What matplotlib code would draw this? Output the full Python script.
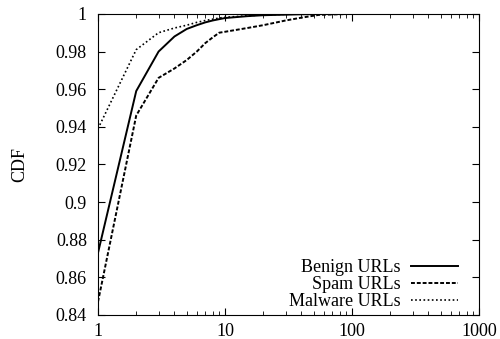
import numpy as np
import matplotlib.pyplot as plt

plt.rcParams['font.family'] = ['Liberation Serif']

x = [1, 2, 3, 4, 5, 6, 7, 8, 9, 10, 15, 20, 30, 40, 55, 100, 1000]
benign = [0.873, 0.959, 0.980, 0.988, 0.992, 0.994, 0.9955, 0.9965, 0.9972, 0.9978,
          0.9988, 0.9993, 0.9996, 0.9998, 0.9999, 1.0, 1.0]
spam = [0.847, 0.946, 0.966, 0.971, 0.9755, 0.980, 0.9845, 0.9875, 0.990, 0.9905,
        0.9925, 0.994, 0.9965, 0.998, 0.9995, 1.0, 1.0]
malware = [0.939, 0.981, 0.990, 0.9925, 0.994, 0.9955, 0.9965, 0.9972, 0.9978, 0.9982,
           0.999, 0.9995, 0.9998, 0.9999, 1.0, 1.0, 1.0]

fig = plt.figure(figsize=(5, 3.39), dpi=100)
ax = fig.add_axes([0.196, 0.071, 0.762, 0.888])

ax.plot(x, benign, color='black', lw=1.4, label='Benign URLs')
ax.plot(x, spam, color='black', lw=1.4, ls=(0, (2, 1)), label='Spam URLs')
ax.plot(x, malware, color='black', lw=1.2, ls=(0, (1, 1.5)), label='Malware URLs')

ax.set_xscale('log')
ax.set_xlim(1, 1000)
ax.set_ylim(0.84, 1.0)
ax.set_xticks([1, 10, 100, 1000])
ax.set_xticklabels(['1', '10', '100', '1000'])
ax.set_yticks([0.84, 0.86, 0.88, 0.9, 0.92, 0.94, 0.96, 0.98, 1.0])
ax.set_yticklabels(['0.84', '0.86', '0.88', '0.9', '0.92', '0.94', '0.96', '0.98', '1'])
ax.tick_params(which='both', direction='in', top=True, right=True, labelsize=13)
ax.tick_params(which='major', length=5)
ax.tick_params(which='minor', length=3)
ax.tick_params(axis='x', pad=6)
ax.tick_params(axis='y', pad=8)
ax.set_ylabel('CDF', fontsize=13, labelpad=20)

leg = ax.legend(loc='lower right', bbox_to_anchor=(0.979, -0.027), frameon=False,
                fontsize=13, markerfirst=False, handlelength=2.6, labelspacing=0.0,
                borderaxespad=0.3, handletextpad=0.6)

fig.savefig('out.png', dpi=100)
